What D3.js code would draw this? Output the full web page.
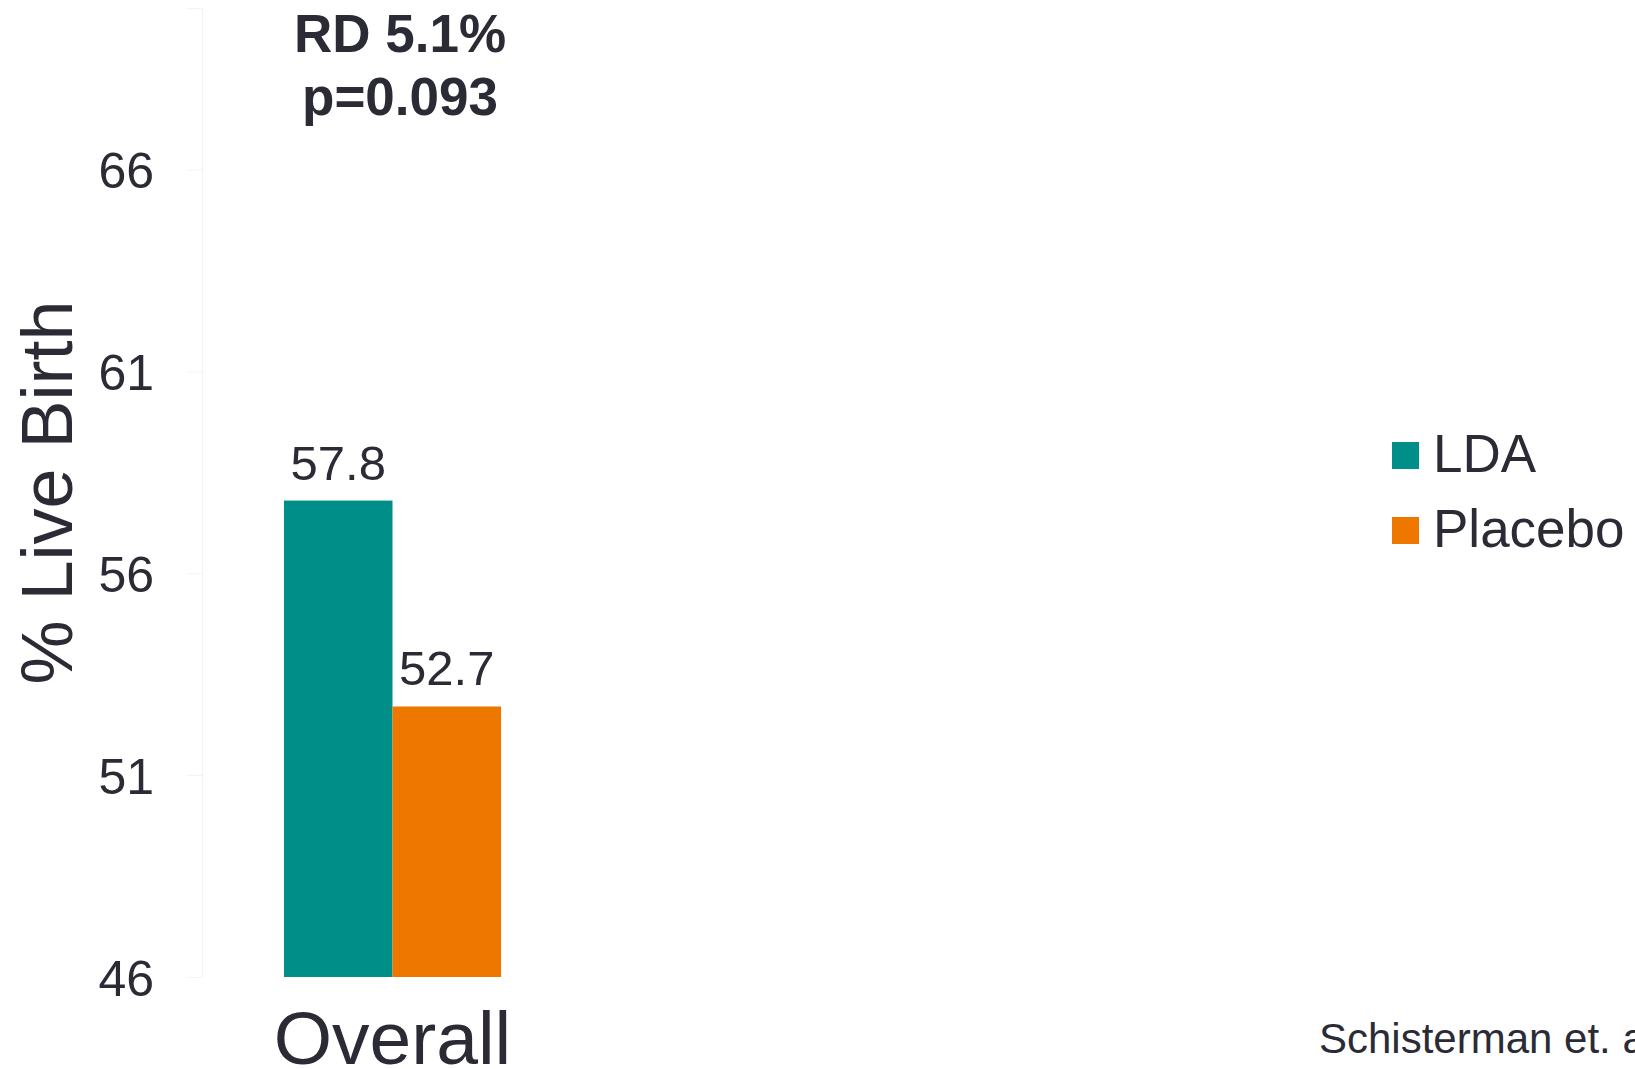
<!DOCTYPE html>
<html>
<head>
<meta charset="utf-8">
<script src="https://cdn.jsdelivr.net/npm/d3@7/dist/d3.min.js"></script>
<style>
  html, body { margin: 0; padding: 0; background: #ffffff; }
  svg { display: block; }
  text { font-family: "Liberation Sans", Arial, Helvetica, sans-serif; fill: #2b2b35; }
</style>
</head>
<body>
<svg id="chart" width="1635" height="1069"></svg>
<script>
// Live birth rates by treatment arm
const categories = ["Overall"];
const seriesNames = ["LDA", "Placebo"];
const ldaValues = [57.8];
const placeboValues = [52.7];
const yTicks = [46, 51, 56, 61, 66];
const annotationLines = ["RD 5.1%", "p=0.093"];
const yTitle = "% Live Birth";
const sourceNote = "Schisterman et. al.";

const colors = { LDA: "#008e89", Placebo: "#ee7700" };
const seriesValues = { LDA: ldaValues, Placebo: placeboValues };

const svg = d3.select("#chart");

const plot = { left: 202, right: 583, top: 8, bottom: 977 };

const y = d3.scaleLinear().domain([46, 70]).range([plot.bottom, plot.top]);
const x0 = d3.scaleBand().domain(categories).range([plot.left, plot.right]).padding(0.274);
const x1 = d3.scaleBand().domain(seriesNames).range([0, x0.bandwidth()]).padding(0);

// Y axis: faint spine and ticks, large labels
const yAxis = d3.axisLeft(y).tickValues(yTicks).tickSize(15).tickPadding(33).tickFormat(d3.format("d"));
const yAxisG = svg.append("g")
  .attr("transform", `translate(${plot.left},0)`)
  .call(yAxis);
yAxisG.select(".domain").attr("stroke", "#f3f3f3").attr("stroke-width", 1);
yAxisG.selectAll(".tick line").attr("stroke", "#f3f3f3");
yAxisG.selectAll(".tick text")
  .attr("font-size", 50)
  .attr("fill", "#2b2b35")
  .attr("dy", "0.36em")
  .attr("font-family", "Liberation Sans, Arial, sans-serif");

// Y axis title
svg.append("text")
  .attr("transform", `translate(72, ${y(58)}) rotate(-90)`)
  .attr("text-anchor", "middle")
  .attr("font-size", 72)
  .text(yTitle);

// Bars
const groups = svg.append("g").selectAll("g")
  .data(categories)
  .join("g")
  .attr("transform", d => `translate(${x0(d)},0)`);

const barData = (c, i) => seriesNames.map(s => ({ series: s, value: seriesValues[s][i] }));

groups.selectAll("rect")
  .data((c, i) => barData(c, i))
  .join("rect")
  .attr("x", d => x1(d.series))
  .attr("y", d => y(d.value))
  .attr("width", x1.bandwidth())
  .attr("height", d => y(46) - y(d.value))
  .attr("fill", d => colors[d.series]);

groups.selectAll("text.value")
  .data((c, i) => barData(c, i))
  .join("text")
  .attr("class", "value")
  .attr("x", d => x1(d.series) + x1.bandwidth() / 2)
  .attr("y", d => y(d.value) - 21)
  .attr("text-anchor", "middle")
  .attr("font-size", 49)
  .text(d => d.value.toFixed(1));

// Category label
svg.append("g").selectAll("text")
  .data(categories)
  .join("text")
  .attr("x", d => x0(d) + x0.bandwidth() / 2)
  .attr("y", 1064)
  .attr("text-anchor", "middle")
  .attr("font-size", 75)
  .text(d => d);

// Risk difference annotation
svg.append("g").selectAll("text")
  .data(annotationLines)
  .join("text")
  .attr("x", 400)
  .attr("y", (d, i) => 52 + i * 63)
  .attr("text-anchor", "middle")
  .attr("font-size", 53)
  .attr("font-weight", "bold")
  .text(d => d);

// Legend
const legend = svg.append("g").attr("transform", "translate(1392,442)");
const items = legend.selectAll("g")
  .data(seriesNames)
  .join("g")
  .attr("transform", (d, i) => `translate(0, ${i * 75})`);
items.append("rect")
  .attr("width", 27).attr("height", 27)
  .attr("fill", d => colors[d]);
items.append("text")
  .attr("x", 41)
  .attr("y", 30)
  .attr("font-size", 53)
  .text(d => d);

// Source note
svg.append("text")
  .attr("x", 1319)
  .attr("y", 1053)
  .attr("font-size", 42)
  .text(sourceNote);
</script>
</body>
</html>
